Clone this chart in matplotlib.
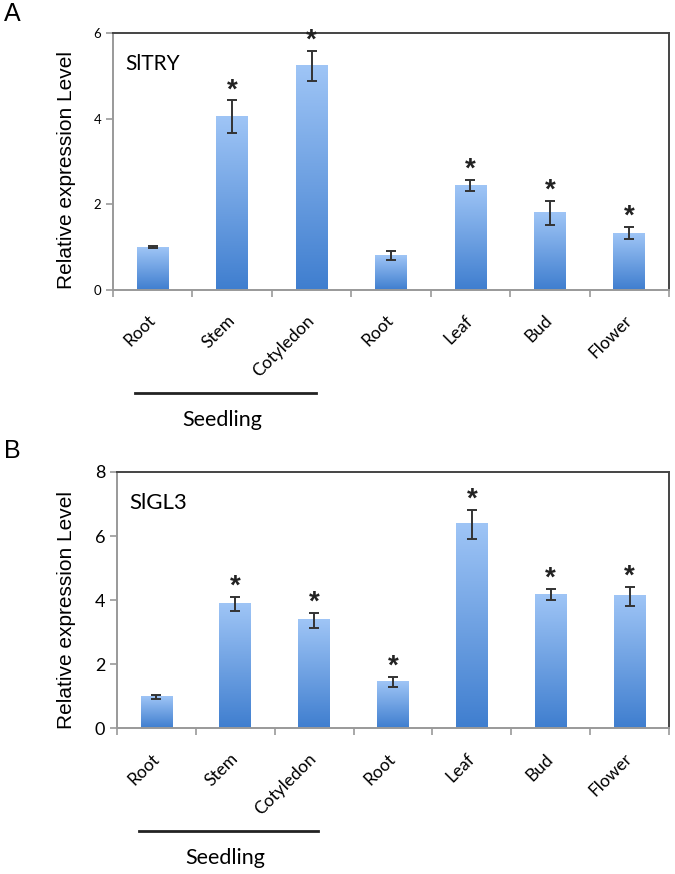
import numpy as np
import matplotlib
matplotlib.use("Agg")
import matplotlib.pyplot as plt
from matplotlib.colors import LinearSegmentedColormap

# tissue labels (first three are seedling tissues)
tissues = ["Root", "Stem", "Cotyledon", "Root", "Leaf", "Bud", "Flower"]

# panel A - SlTRY
try_mean = [1.00, 4.05, 5.24, 0.80, 2.45, 1.81, 1.33]
try_err = [0.03, 0.38, 0.35, 0.10, 0.13, 0.28, 0.14]
try_sig = [False, True, True, False, True, True, True]

# panel B - SlGL3
gl3_mean = [0.98, 3.89, 3.37, 1.46, 6.37, 4.17, 4.12]
gl3_err = [0.06, 0.22, 0.23, 0.16, 0.45, 0.17, 0.30]
gl3_sig = [False, True, True, True, True, True, True]

bar_cmap = LinearSegmentedColormap.from_list("bar", ["#3f7ecf", "#9fc5f6"])
grad = np.linspace(0, 1, 256).reshape(-1, 1)


def draw_panel(ax, mean, err, sig, ymax, gene, tick_size, gene_size):
    x = np.arange(len(tissues))
    bars = ax.bar(x, mean, width=0.40, color="none", edgecolor="none", zorder=2)
    # vertical gradient fill for each bar
    for b in bars:
        x0, w, h = b.get_x(), b.get_width(), b.get_height()
        ax.imshow(grad, extent=[x0, x0 + w, 0, h], origin="lower",
                  cmap=bar_cmap, aspect="auto", zorder=2)
    ax.errorbar(x, mean, yerr=err, fmt="none", ecolor="#333333",
                elinewidth=1.4, capsize=3.6, capthick=1.4, zorder=3)
    for xi, m, e, s in zip(x, mean, err, sig):
        if s:
            ax.annotate("*", (xi, m + e), xytext=(0, -2), textcoords="offset points",
                        ha="center", va="bottom", fontsize=20, fontweight="bold",
                        family="Liberation Sans", color="#222222")

    ax.set_xlim(-0.5, len(tissues) - 0.5)
    ax.set_ylim(0, ymax)
    ax.set_yticks(np.arange(0, ymax + 1, 2))
    ax.set_xticks(x, tissues)
    ax.set_xticks(np.arange(-0.5, len(tissues)), minor=True)
    ax.tick_params(axis="x", which="major", length=0, pad=20, labelsize=12.5)
    ax.tick_params(axis="x", which="minor", length=5, color="#999999", width=1.2)
    ax.tick_params(axis="y", length=5, color="#999999", width=1.2, labelsize=tick_size)
    for lab in ax.get_xticklabels():
        lab.set_rotation(45)
        lab.set_ha("right")
        lab.set_va("center")
        lab.set_rotation_mode("anchor")
        lab.set_family("Lato")
    for lab in ax.get_yticklabels():
        lab.set_family("Lato")

    for side in ["left", "bottom"]:
        ax.spines[side].set_color("#999999")
        ax.spines[side].set_linewidth(1.4)
    for side in ["top", "right"]:
        ax.spines[side].set_color("#444444")
        ax.spines[side].set_linewidth(1.4)

    ax.text(0.022, 0.88, gene, transform=ax.transAxes, fontsize=gene_size,
            family="Lato", va="center", ha="left")

    # seedling bracket under the first three tissues
    trans = ax.get_xaxis_transform()
    ax.plot([-0.22, 2.05], [-0.40, -0.40], color="#222222", lw=2,
            transform=trans, clip_on=False)
    ax.text(0.87, -0.505, "Seedling", transform=trans, ha="center", va="center",
            fontsize=15.5, family="Lato")


fig = plt.figure(figsize=(6.75, 8.74), dpi=100)

ax_a = fig.add_axes([0.1674, 0.6682, 0.8237, 0.2937])
draw_panel(ax_a, try_mean, try_err, try_sig, 6, "SlTRY", 9.5, 15)

ax_b = fig.add_axes([0.1733, 0.1665, 0.8178, 0.2935])
draw_panel(ax_b, gl3_mean, gl3_err, gl3_sig, 8, "SlGL3", 13, 16)

fig.text(67 / 675, 1 - 170 / 874, "Relative expression Level", rotation=90,
         ha="center", va="center", fontsize=15, family="Liberation Sans")
fig.text(67 / 675, 1 - 610 / 874, "Relative expression Level", rotation=90,
         ha="center", va="center", fontsize=15, family="Liberation Sans")

fig.text(0.006, 1 - 14 / 874, "A", ha="left", va="center", fontsize=18,
         family="Liberation Sans")
fig.text(0.006, 1 - 451 / 874, "B", ha="left", va="center", fontsize=18,
         family="Liberation Sans")

fig.savefig("out.png", dpi=100)
